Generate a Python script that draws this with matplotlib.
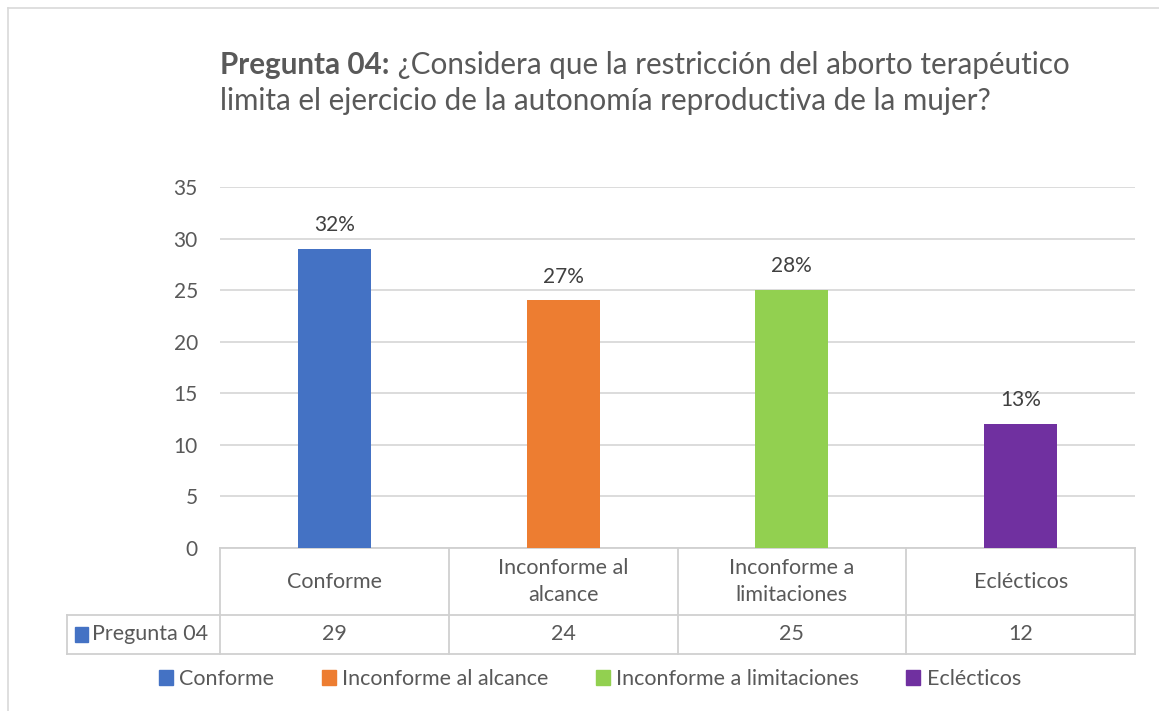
import matplotlib.pyplot as plt
import numpy as np
from matplotlib.lines import Line2D
from matplotlib.patches import Rectangle
from matplotlib.transforms import blended_transform_factory

categories = ["Conforme", "Inconforme al alcance", "Inconforme a limitaciones", "Eclécticos"]
header_labels = ["Conforme", "Inconforme al\nalcance", "Inconforme a\nlimitaciones", "Eclécticos"]
values = [29, 24, 25, 12]
series_name = "Pregunta 04"
colors = ["#4472C4", "#ED7D31", "#92D050", "#7030A0"]
y_ticks = [0, 5, 10, 15, 20, 25, 30, 35]
title_bold = "Pregunta 04:"
title_rest = " ¿Considera que la restricción del aborto terapéutico"
title_line2 = "limita el ejercicio de la autonomía reproductiva de la mujer?"

plt.rcParams["font.family"] = ["Lato", "DejaVu Sans"]
text_color = "#595959"
grid_color = "#D9D9D9"
W, H = 1159, 711
fs = 15.5

fig = plt.figure(figsize=(W / 100, H / 100), dpi=100)
ax = fig.add_axes([220 / W, 1 - 548 / H, (1135 - 220) / W, (548 - 187) / H])

x = np.arange(len(categories))
total = sum(values)
ax.bar(x, values, width=0.32, color=colors, zorder=3)
for xi, v in zip(x, values):
    ax.annotate(f"{round(100 * v / total)}%", (xi, v), xytext=(0, 10),
                textcoords="offset points", ha="center", va="bottom",
                fontsize=15, color="#404040")

ax.set_xlim(-0.5, len(categories) - 0.5)
ax.set_ylim(0, 35)
ax.set_yticks(y_ticks)
ax.set_xticks([])
ax.grid(axis="y", color=grid_color, linewidth=1.3, zorder=0)
for s in ax.spines.values():
    s.set_visible(False)
ax.tick_params(axis="y", length=0, pad=16, labelsize=15, labelcolor=text_color)

# data table under the axis
tr = blended_transform_factory(ax.transData, ax.transAxes)
row1 = -(615 - 548) / 361
row2 = -(654 - 548) / 361
x_left = -0.5 - (220 - 67) / 228.75
line_kw = dict(color="#D0D0D0", linewidth=1.3, transform=tr, clip_on=False)
xr = len(categories) - 0.5
ax.add_line(Line2D([-0.5, xr], [0, 0], **line_kw))
ax.add_line(Line2D([x_left, xr], [row1, row1], **line_kw))
ax.add_line(Line2D([x_left, xr], [row2, row2], **line_kw))
ax.add_line(Line2D([x_left, x_left], [row1, row2], **line_kw))
for b in np.arange(len(categories) + 1) - 0.5:
    ax.add_line(Line2D([b, b], [0, row2], **line_kw))

for xi, lab, v in zip(x, header_labels, values):
    ax.text(xi, row1 / 2, lab, transform=tr, ha="center", va="center",
            fontsize=fs, color=text_color, linespacing=1.4)
    ax.text(xi, (row1 + row2) / 2, str(v), transform=tr, ha="center",
            va="center", fontsize=fs, color=text_color)

ax.add_patch(Rectangle((x_left + 0.035, (row1 + row2) / 2 - 0.02), 0.055, 0.04,
                       transform=tr, color=colors[0], clip_on=False))
ax.text(x_left + 0.11, (row1 + row2) / 2, series_name, transform=tr,
        ha="left", va="center", fontsize=fs, color=text_color)

# legend
handles = [Rectangle((0, 0), 1, 1, color=c) for c in colors]
fig.legend(handles, categories, loc="center", bbox_to_anchor=(590 / W, 1 - 679 / H),
           ncol=4, frameon=False, fontsize=fs, handlelength=0.65, handleheight=0.65,
           handletextpad=0.3, columnspacing=2.2, labelcolor=text_color)

# title
t1 = fig.text(220 / W, 1 - 65 / H, title_bold, fontsize=21.3, fontweight="bold",
              color=text_color, va="center", ha="left")
fig.canvas.draw()
bb = t1.get_window_extent()
fig.text(bb.x1 / W, 1 - 65 / H, title_rest, fontsize=21.3, color=text_color,
         va="center", ha="left")
fig.text(220 / W, 1 - 101 / H, title_line2, fontsize=21.3, color=text_color,
         va="center", ha="left")

# chart frame
fig.add_artist(Line2D([8 / W, 8 / W], [0, 1 - 8 / H], color="#D9D9D9", linewidth=1.2))
fig.add_artist(Line2D([8 / W, 1], [1 - 8 / H, 1 - 8 / H], color="#D9D9D9", linewidth=1.2))

fig.savefig("out.png", dpi=100, facecolor="white")
